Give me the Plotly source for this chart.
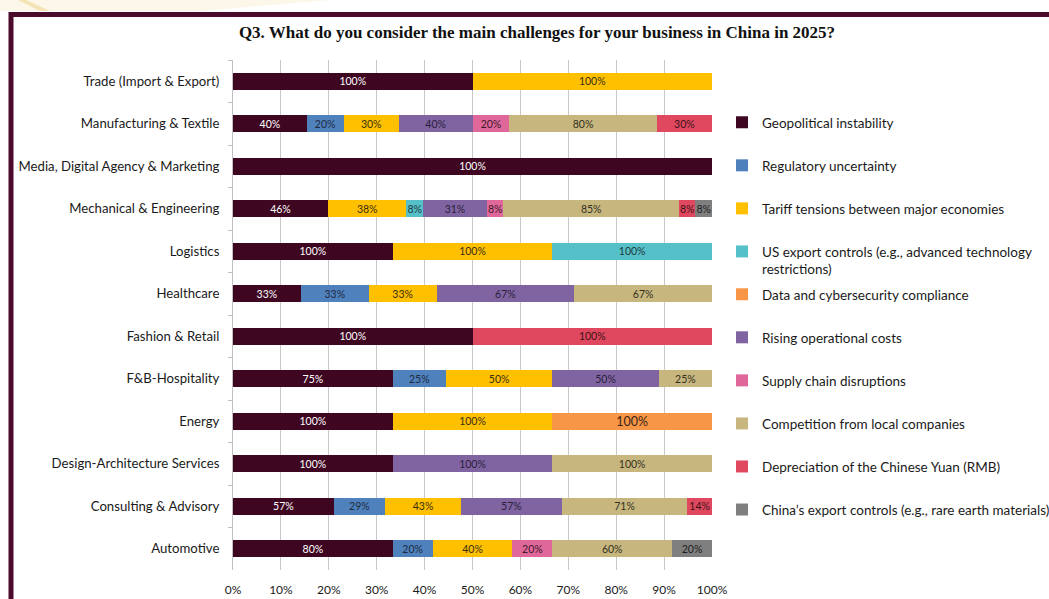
import plotly.graph_objects as go

# Sectors, listed top to bottom
sectors = [
    "Trade (Import & Export)",
    "Manufacturing & Textile",
    "Media, Digital Agency & Marketing",
    "Mechanical & Engineering",
    "Logistics",
    "Healthcare",
    "Fashion & Retail",
    "F&B-Hospitality",
    "Energy",
    "Design-Architecture Services",
    "Consulting & Advisory",
    "Automotive",
]

# Share of respondents (%) in each sector citing each challenge
geopolitical = [100, 40, 100, 46, 100, 33, 100, 75, 100, 100, 57, 80]
regulatory = [None, 20, None, None, None, 33, None, 25, None, None, 29, 20]
tariff = [100, 30, None, 38, 100, 33, None, 50, 100, None, 43, 40]
us_export = [None, None, None, 8, 100, None, None, None, None, None, None, None]
data_cyber = [None, None, None, None, None, None, None, None, 100, None, None, None]
rising_costs = [None, 40, None, 31, None, 67, None, 50, None, 100, 57, None]
supply_chain = [None, 20, None, 8, None, None, None, None, None, None, None, 20]
competition = [None, 80, None, 85, None, 67, None, 25, None, 100, 71, 60]
depreciation = [None, 30, None, 8, None, None, 100, None, None, None, 14, None]
china_export = [None, None, None, 8, None, None, None, None, None, None, None, 20]

x_ticks = [0, 10, 20, 30, 40, 50, 60, 70, 80, 90, 100]

series = [
    ("Geopolitical instability", geopolitical, "#3E0620", "white", 10.5, "legend"),
    ("Regulatory uncertainty", regulatory, "#4F81BD", "#1E2A40", 10.5, "legend"),
    ("Tariff tensions between major economies", tariff, "#FFC000", "#3A2E10", 10.5, "legend"),
    ("US export controls (e.g., advanced technology<br>restrictions)", us_export, "#56C0C8", "#1D3A40", 10.5, "legend"),
    ("Data and cybersecurity compliance", data_cyber, "#F79646", "#3A2418", 12.5, "legend2"),
    ("Rising operational costs", rising_costs, "#8064A2", "#2A1E3A", 10.5, "legend2"),
    ("Supply chain disruptions", supply_chain, "#E0679A", "#3E1A2A", 10.5, "legend2"),
    ("Competition from local companies", competition, "#C7B77F", "#33301E", 10.5, "legend2"),
    ("Depreciation of the Chinese Yuan (RMB)", depreciation, "#E0485F", "#3E1218", 10.5, "legend2"),
    ("China\u2019s export controls (e.g., rare earth materials)", china_export, "#7F7F7F", "#1E1E1E", 10.5, "legend2"),
]

fig = go.Figure()
for i, (name, vals, color, tcolor, tsize, leg) in enumerate(series):
    fig.add_trace(go.Bar(
        y=sectors,
        x=vals,
        name=name,
        orientation="h",
        marker=dict(color=color, line=dict(width=0)),
        text=[f"{v}%" if v is not None else "" for v in vals],
        textposition="inside",
        insidetextanchor="middle",
        constraintext="none",
        textangle=0,
        textfont=dict(family="Lato", size=tsize, color=tcolor),
        legend=leg,
        legendgroup=f"g{i}",
    ))

# Frame lines along the top and left of the panel, plus a faint glow in the corner
shapes = [
    dict(type="rect", xref="paper", yref="paper",
         x0=(11 - 233) / 479, x1=3.0, y0=-1.0, y1=(570 - 14.5) / 510,
         line=dict(color="#4A0A2C", width=5), fillcolor="rgba(0,0,0,0)", layer="below"),
    dict(type="path", xref="paper", yref="paper",
         path=f"M {(0 - 233) / 479},{(570 - 0) / 510} L {(330 - 233) / 479},{(570 - 0) / 510} "
              f"L {(200 - 233) / 479},{(570 - 11) / 510} L {(0 - 233) / 479},{(570 - 11) / 510} Z",
         fillcolor="rgba(245,232,190,0.35)", line=dict(width=0), layer="below"),
    dict(type="path", xref="paper", yref="paper",
         path=f"M {(18 - 233) / 479},{(570 - 0) / 510} L {(26 - 233) / 479},{(570 - 0) / 510} "
              f"L {(50 - 233) / 479},{(570 - 11) / 510} L {(40 - 233) / 479},{(570 - 11) / 510} Z",
         fillcolor="rgba(236,205,120,0.45)", line=dict(width=0), layer="below"),
]

legend_style = dict(
    xanchor="left",
    yanchor="top",
    tracegroupgap=22.5,
    valign="top",
    itemwidth=30,
    font=dict(family="Lato", size=13.5, color="#1A1A1A"),
    bgcolor="rgba(0,0,0,0)",
)

fig.update_layout(
    width=1049,
    height=599,
    barmode="stack",
    barnorm="percent",
    bargap=0.6,
    paper_bgcolor="white",
    plot_bgcolor="white",
    margin=dict(l=233, r=337, t=60, b=29, autoexpand=False),
    font=dict(family="Lato", size=12, color="#1A1A1A"),
    title=dict(
        text="<b>Q3. What do you consider the main challenges for your business in China in 2025?</b>",
        font=dict(family="Liberation Serif", size=17, color="#111111"),
        x=537 / 1049, xanchor="center", xref="container",
        y=1 - 32 / 599, yanchor="middle", yref="container",
    ),
    xaxis=dict(
        range=[0, 100],
        tickvals=x_ticks,
        ticktext=[f"{t}%" for t in x_ticks],
        showgrid=True,
        gridcolor="#C8C8C8",
        gridwidth=1,
        zeroline=False,
        showline=False,
        ticks="",
        ticklabelstandoff=11,
        tickfont=dict(family="Lato", size=12, color="#1A1A1A"),
        fixedrange=True,
    ),
    yaxis=dict(
        type="category",
        categoryorder="array",
        categoryarray=sectors,
        autorange="reversed",
        showline=True,
        linecolor="#BFBFBF",
        linewidth=1,
        ticks="outside",
        tickson="boundaries",
        ticklen=4,
        tickcolor="#BFBFBF",
        ticklabelstandoff=10,
        tickfont=dict(family="Lato", size=13.2, color="#1A1A1A"),
        showgrid=False,
    ),
    legend=dict(x=(722 - 233) / 479, y=(570 - 107) / 510, **legend_style),
    legend2=dict(x=(722 - 233) / 479, y=(570 - 279) / 510, **legend_style),
    shapes=shapes,
    showlegend=True,
)

fig.write_html("out.html")
